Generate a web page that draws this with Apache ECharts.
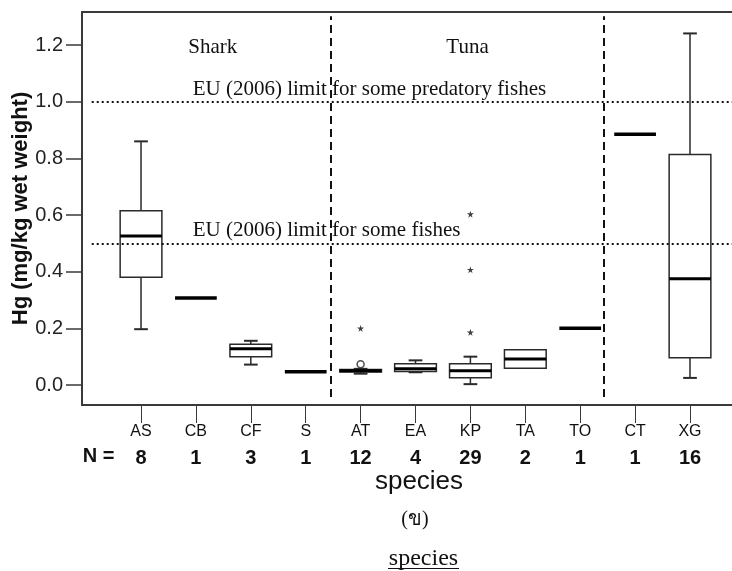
<!DOCTYPE html>
<html>
<head>
<meta charset="utf-8">
<script src="https://cdn.jsdelivr.net/npm/echarts@6/dist/echarts.min.js"></script>
<style>
  html, body { margin: 0; padding: 0; background: #fff; }
  #chart { width: 732px; height: 571px; }
</style>
</head>
<body>
<div id="chart"></div>
<script>
// Hg concentration by species (mg/kg wet weight)
const species = ['AS', 'CB', 'CF', 'S', 'AT', 'EA', 'KP', 'TA', 'TO', 'CT', 'XG'];
const sampleSize = [8, 1, 3, 1, 12, 4, 29, 2, 1, 1, 16];

// five-number summaries (single-sample species repeat the value)
const lowWhisker    = [0.197, 0.307, 0.072, 0.047, 0.040, 0.045, 0.003, 0.059, 0.200, 0.885, 0.025];
const lowerQuartile = [0.380, 0.307, 0.100, 0.047, 0.046, 0.048, 0.026, 0.059, 0.200, 0.885, 0.096];
const medianHg      = [0.526, 0.307, 0.128, 0.047, 0.050, 0.057, 0.050, 0.092, 0.200, 0.885, 0.375];
const upperQuartile = [0.615, 0.307, 0.144, 0.047, 0.055, 0.075, 0.075, 0.124, 0.200, 0.885, 0.814];
const highWhisker   = [0.860, 0.307, 0.156, 0.047, 0.057, 0.087, 0.100, 0.124, 0.200, 0.885, 1.241];

// outliers (o) and extreme values (*)
const outliers = [['AT', 0.073]];
const extremes = [['AT', 0.200], ['KP', 0.186], ['KP', 0.407], ['KP', 0.603]];

// reference limits and group separators (shark | tuna | other)
const euLimits = [1.0, 0.5];
const groupDividers = [3.45, 8.42];
const yTicks = [0, 0.2, 0.4, 0.6, 0.8, 1.0, 1.2];

const SANS = '"Liberation Sans", Arial, sans-serif';
const SERIF = '"Liberation Serif", "Times New Roman", serif';

const boxData = species.map((s, i) => [i, lowWhisker[i], lowerQuartile[i], medianHg[i], upperQuartile[i], highWhisker[i]]);
const idx = name => species.indexOf(name);

const X_MIN = -1.075, X_MAX = 10.765;
const Y_MIN = -0.0706, Y_MAX = 1.3166;

function renderBox(params, api) {
  const i = api.value(0);
  const lo = api.value(1), q1 = api.value(2), md = api.value(3), q3 = api.value(4), hi = api.value(5);
  const band = api.size([1, 0])[0];
  const bw = band * 0.76;
  const cw = band * 0.25;
  const cx = api.coord([i, md])[0];
  const y = v => api.coord([i, v])[1];
  const dark = '#2a2a2a';
  const children = [];
  if (q1 === q3) {
    children.push({ type: 'line', shape: { x1: cx - bw / 2, y1: y(md), x2: cx + bw / 2, y2: y(md) },
      style: { stroke: '#000', lineWidth: 3.5 } });
    return { type: 'group', children };
  }
  if (hi > q3) {
    children.push({ type: 'line', shape: { x1: cx, y1: y(hi), x2: cx, y2: y(q3) }, style: { stroke: dark, lineWidth: 1.5 } });
    children.push({ type: 'line', shape: { x1: cx - cw / 2, y1: y(hi), x2: cx + cw / 2, y2: y(hi) }, style: { stroke: dark, lineWidth: 2 } });
  }
  if (lo < q1) {
    children.push({ type: 'line', shape: { x1: cx, y1: y(q1), x2: cx, y2: y(lo) }, style: { stroke: dark, lineWidth: 1.5 } });
    children.push({ type: 'line', shape: { x1: cx - cw / 2, y1: y(lo), x2: cx + cw / 2, y2: y(lo) }, style: { stroke: dark, lineWidth: 2 } });
  }
  children.push({ type: 'rect', shape: { x: cx - bw / 2, y: y(q3), width: bw, height: y(q1) - y(q3) },
    style: { fill: 'none', stroke: dark, lineWidth: 1.5 } });
  children.push({ type: 'line', shape: { x1: cx - bw / 2, y1: y(md), x2: cx + bw / 2, y2: y(md) },
    style: { stroke: '#000', lineWidth: 3 } });
  return { type: 'group', children };
}

const starPath = 'path://M50,0 L61,35 L98,35 L68,57 L79,91 L50,70 L21,91 L32,57 L2,35 L39,35 Z';

const chart = echarts.init(document.getElementById('chart'), null, { renderer: 'canvas' });

const frame = { lineStyle: { color: '#3a3a3a', width: 2 } };

chart.setOption({
  backgroundColor: '#fff',
  animation: false,
  grid: { left: 82, right: 0, top: 12, bottom: 166, outerBoundsMode: 'none', containLabel: false },
  xAxis: [{
    type: 'value', min: X_MIN, max: X_MAX, position: 'bottom',
    splitLine: { show: false },
    axisLine: { show: true, onZero: false, ...frame },
    axisTick: { show: true, length: 18, customValues: species.map((s, i) => i), lineStyle: { color: '#3a3a3a', width: 1 } },
    axisLabel: {
      customValues: species.map((s, i) => i),
      margin: 14,
      formatter: v => {
        const i = Math.round(v);
        return '{sp|' + species[i] + '}\n{n|' + sampleSize[i] + '}';
      },
      rich: {
        sp: { fontFamily: SANS, fontSize: 16, color: '#111', lineHeight: 26, align: 'center' },
        n: { fontFamily: SANS, fontSize: 20, fontWeight: 'bold', color: '#111', lineHeight: 26, align: 'center' }
      }
    }
  }, {
    type: 'value', min: X_MIN, max: X_MAX, position: 'top',
    splitLine: { show: false },
    axisLine: { show: true, onZero: false, ...frame },
    axisTick: { show: false }, axisLabel: { show: false }
  }],
  yAxis: {
    type: 'value', min: Y_MIN, max: Y_MAX,
    name: 'Hg (mg/kg wet weight)',
    nameLocation: 'middle', nameRotate: 90, nameGap: 50, nameMoveOverlap: false,
    nameTextStyle: { fontFamily: SANS, fontSize: 22, fontWeight: 'bold', color: '#111' },
    splitLine: { show: false },
    axisLine: { show: true, onZero: false, ...frame },
    axisTick: { show: true, length: 16, customValues: yTicks, lineStyle: { color: '#3a3a3a', width: 1.5 } },
    axisLabel: {
      customValues: yTicks, margin: 19,
      fontFamily: SANS, fontSize: 20, color: '#222',
      formatter: v => v.toFixed(1)
    }
  },
  series: [{
    type: 'custom',
    renderItem: renderBox,
    data: boxData,
    encode: { x: 0, y: [1, 2, 3, 4, 5] },
    z: 3
  }, {
    type: 'scatter',
    data: outliers.map(d => [idx(d[0]), d[1]]),
    symbol: 'circle', symbolSize: 7,
    itemStyle: { color: '#fff', borderColor: '#222', borderWidth: 1.5 },
    z: 4,
    markLine: {
      silent: true, symbol: 'none', animation: false,
      label: { show: false },
      data: [
        ...groupDividers.map(x => [
          { coord: [x, -0.042], lineStyle: { type: [8, 5], width: 2, color: '#111' } },
          { coord: [x, 1.302] }
        ]),
        ...euLimits.map(v => [
          { coord: [-0.898, v], lineStyle: { type: [2, 3], width: 2, color: '#111' } },
          { coord: [X_MAX, v] }
        ])
      ]
    }
  }, {
    type: 'scatter',
    data: extremes.map(d => [idx(d[0]), d[1]]),
    symbol: starPath, symbolSize: 7,
    itemStyle: { color: '#111' },
    z: 4
  }],
  graphic: [
    { type: 'text', x: 212.8, y: 47.7, style: { text: 'Shark', font: '21px ' + SERIF, fill: '#111', textAlign: 'center', textVerticalAlign: 'middle' } },
    { type: 'text', x: 467.5, y: 47.7, style: { text: 'Tuna', font: '21px ' + SERIF, fill: '#111', textAlign: 'center', textVerticalAlign: 'middle' } },
    { type: 'text', x: 192.7, y: 89.8, style: { text: 'EU (2006) limit for some predatory fishes', font: '21px ' + SERIF, fill: '#111', textAlign: 'left', textVerticalAlign: 'middle' } },
    { type: 'text', x: 192.7, y: 230.5, style: { text: 'EU (2006) limit for some fishes', font: '21px ' + SERIF, fill: '#111', textAlign: 'left', textVerticalAlign: 'middle' } },
    { type: 'text', x: 82.7, y: 456.7, style: { text: 'N =', font: 'bold 20px ' + SANS, fill: '#111', textAlign: 'left', textVerticalAlign: 'middle' } },
    { type: 'text', x: 419, y: 482, style: { text: 'species', font: '26px ' + SANS, fill: '#111', textAlign: 'center', textVerticalAlign: 'middle' } },
    { type: 'text', x: 415, y: 520, style: { text: '(ข)', font: '20px ' + SERIF, fill: '#111', textAlign: 'center', textVerticalAlign: 'middle' } },
    { type: 'text', x: 423.5, y: 559, style: { text: 'species', font: '24px ' + SERIF, fill: '#111', textAlign: 'center', textVerticalAlign: 'middle' } },
    { type: 'line', shape: { x1: 388, y1: 568.5, x2: 459, y2: 568.5 }, style: { stroke: '#111', lineWidth: 1 } }
  ]
});
</script>
</body>
</html>
